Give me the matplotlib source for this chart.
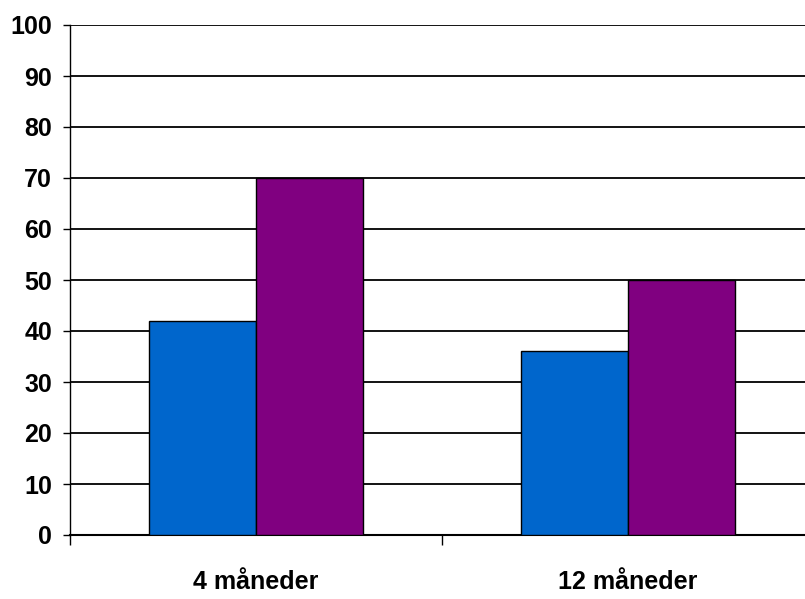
import numpy as np
import matplotlib
matplotlib.use("Agg")
import matplotlib.pyplot as plt

categories = ["4 måneder", "12 måneder"]
series_a = [42, 36]
series_b = [70, 50]
y_ticks = [0, 10, 20, 30, 40, 50, 60, 70, 80, 90, 100]

plt.rcParams['font.family'] = ['Liberation Sans', 'DejaVu Sans']
plt.rcParams['font.weight'] = 'bold'

fig = plt.figure(figsize=(8.05, 5.99), dpi=100)
ax = fig.add_axes([70 / 805, 64 / 599, 744 / 805, 510 / 599])

x = np.arange(len(categories))
w = 0.2875
ax.bar(x - w / 2, series_a, w, color="#0066CC", edgecolor="black", linewidth=1, zorder=3)
ax.bar(x + w / 2, series_b, w, color="#800080", edgecolor="black", linewidth=1, zorder=3)

ax.set_xlim(-0.5, 1.5)
ax.set_ylim(0, 100)
ax.set_yticks(y_ticks)
ax.set_yticklabels([str(t) for t in y_ticks], fontsize=18, fontweight='bold')
ax.set_xticks(x)
ax.set_xticklabels(categories, fontsize=18, fontweight='bold')
ax.tick_params(axis='x', which='major', length=0, pad=25)
ax.set_xticks([-0.5, 0.5], minor=True)
ax.tick_params(axis='x', which='minor', length=7, width=1)
ax.tick_params(axis='y', length=5, width=1, pad=8)

ax.yaxis.grid(True, color="black", linewidth=1.3, zorder=0)
ax.set_axisbelow(True)
for s in ["top", "right"]:
    ax.spines[s].set_visible(False)
ax.spines["left"].set_linewidth(1)
ax.spines["bottom"].set_linewidth(1.5)

fig.savefig("out.png", dpi=100)
